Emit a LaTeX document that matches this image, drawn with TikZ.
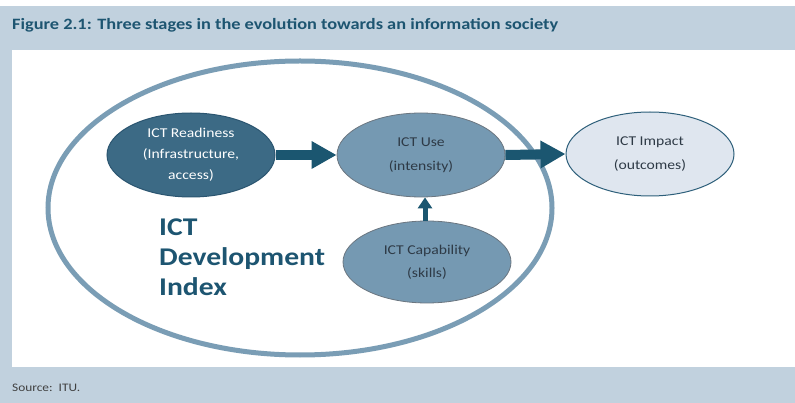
\documentclass[tikz,border=0pt]{standalone}
\usepackage{fontspec}
\setmainfont[FakeStretch=1.16]{Carlito}
\usetikzlibrary{arrows.meta,shapes.geometric}
\definecolor{panel}{HTML}{C1D1DE}
\definecolor{titleblue}{HTML}{1D5571}
\definecolor{readyfill}{HTML}{3C6A85}
\definecolor{readyline}{HTML}{2B5570}
\definecolor{usefill}{HTML}{7599B2}
\definecolor{useline}{HTML}{6B7680}
\definecolor{impactfill}{HTML}{DFE6EF}
\definecolor{impactline}{HTML}{2D5F7A}
\definecolor{arrowblue}{HTML}{1B5670}
\definecolor{ringblue}{HTML}{7A9DB5}
\definecolor{stagetext}{HTML}{2E3A46}
\tikzset{
  stage/.style={ellipse, minimum width=168pt, minimum height=84pt, inner sep=0pt,
    align=center, text=stagetext, font=\fontsize{13.5}{23.5}\selectfont},
  bigarrow/.style={draw=arrowblue, line width=10pt,
    -{Triangle[length=25pt,width=26pt]}},
  smallarrow/.style={draw=arrowblue, line width=5pt,
    -{Triangle[length=11pt,width=14pt]}},
}
\begin{document}
\begin{tikzpicture}[x=1pt,y=-1pt]
  % frame: top strip, caption panel, white drawing area
  \useasboundingbox (0,0) rectangle (795,403);
  \fill[white] (0,0) rectangle (795,403);
  \fill[panel] (0,6) rectangle (795,403);
  \fill[white] (12,50) rectangle (795,367);
  \node[anchor=base west, inner sep=0pt, text=titleblue,
        font=\fontsize{15.8}{17}\selectfont\bfseries] (title) at (12,30)
    {Figure 2.1: Three stages in the evolution towards an information society};
  \node[anchor=base west, inner sep=0pt, text=black!75,
        font=\fontsize{11.5}{13}\selectfont] (source) at (12,391) {Source:\ \ ITU.};

  % index ring
  \draw[ringblue, line width=5pt] (300,208) ellipse [x radius=252, y radius=147];
  \node[anchor=north west, align=left, inner sep=0pt, text=titleblue,
        font=\fontsize{25.5}{30}\selectfont\bfseries] (idi) at (159,219)
    {ICT\\Development\\Index};

  % stages
  \node[stage, fill=readyfill, draw=readyline, line width=1pt, text=white,
        font=\fontsize{13.5}{21}\selectfont] (ready) at (191,155)
    {ICT Readiness\\(Infrastructure,\\access)};
  \node[stage, fill=usefill, draw=useline, line width=0.8pt] (use) at (421,155)
    {ICT Use\\(intensity)};
  \node[stage, fill=impactfill, draw=impactline, line width=1pt] (impact) at (650,154)
    {ICT Impact\\(outcomes)};
  \node[stage, fill=usefill, draw=useline, line width=0.8pt,
        minimum height=82pt] (capab) at (427,262)
    {ICT Capability\\(skills)};

  % flows between stages
  \draw[bigarrow] (ready.east) -- (use.west);
  \draw[bigarrow] (use.east) -- (impact.west);
  \draw[smallarrow] ([xshift=-2pt]capab.north) -- ([xshift=-2pt]capab.north |- use.south);
\end{tikzpicture}
\end{document}
